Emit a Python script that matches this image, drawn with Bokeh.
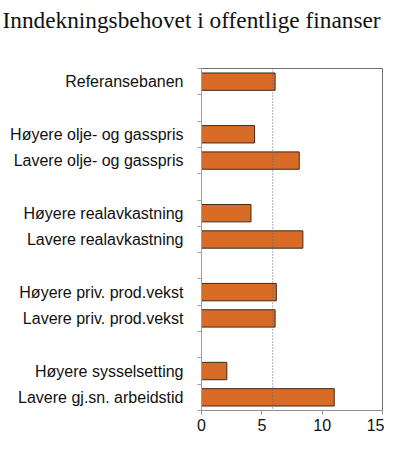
from bokeh.plotting import figure
from bokeh.models import Range1d, FixedTicker, Span, ColumnDataSource, Title
from bokeh.embed import file_html
from bokeh.resources import INLINE

title_text = "Inndekningsbehovet i offentlige finanser"
categories = [
    "Referansebanen",
    "",
    "Høyere olje- og gasspris",
    "Lavere olje- og gasspris",
    "",
    "Høyere realavkastning",
    "Lavere realavkastning",
    "",
    "Høyere priv. prod.vekst",
    "Lavere priv. prod.vekst",
    "",
    "Høyere sysselsetting",
    "Lavere gj.sn. arbeidstid",
]
values = [6.1, None, 4.4, 8.1, None, 4.1, 8.4, None, 6.2, 6.1, None, 2.1, 11.0]
reference_line = 5.9
x_ticks = [0, 5, 10, 15]

n = len(categories)
idx = [i for i, v in enumerate(values) if v is not None]
source = ColumnDataSource(dict(
    y=idx,
    v=[values[i] for i in idx],
    name=[categories[i] for i in idx],
))

p = figure(width=384, height=434, output_backend="svg", toolbar_location=None,
           x_range=Range1d(x_ticks[0], x_ticks[-1]),
           y_range=Range1d(n - 0.5, -0.5),
           min_border_left=201, min_border_right=2, min_border_top=67, min_border_bottom=24)

p.hbar(y="y", right="v", left=0, height=0.66, source=source,
       fill_color="#D86C26", line_color="#3a2a20", line_width=1)

p.add_layout(Span(location=reference_line, dimension="height", line_color="#666666",
                  line_dash="1 2", line_width=1))

p.xgrid.visible = False
p.ygrid.visible = False
p.outline_line_color = "#707070"
p.outline_line_width = 1

# x axis
p.xaxis.ticker = FixedTicker(ticks=x_ticks)
p.xaxis.axis_line_color = "#909090"
p.xaxis.major_tick_line_color = "#909090"
p.xaxis.major_tick_out = 4
p.xaxis.major_tick_in = 0
p.xaxis.minor_tick_line_color = None
p.xaxis.major_label_text_font = "Arial"
p.xaxis.major_label_text_font_size = "16px"
p.xaxis.major_label_text_color = "#111111"
p.xaxis.major_label_standoff = 4

# y axis
p.yaxis.ticker = FixedTicker(ticks=idx, minor_ticks=[i - 0.5 for i in range(n + 1)])
p.yaxis.major_label_overrides = {i: categories[i] for i in idx}
p.yaxis.axis_line_color = "#a0a0a0"
p.yaxis.major_tick_line_color = None
p.yaxis.major_tick_out = 0
p.yaxis.major_tick_in = 0
p.yaxis.minor_tick_line_color = "#a0a0a0"
p.yaxis.minor_tick_out = 4
p.yaxis.minor_tick_in = 0
p.yaxis.major_label_text_font = "Arial"
p.yaxis.major_label_text_font_size = "16px"
p.yaxis.major_label_text_color = "#111111"
p.yaxis.major_label_standoff = 14

# spacer between the title and the frame, then the title itself
p.title.visible = False
p.add_layout(Title(text=" ", text_font_size="10px", standoff=19), "above")
p.add_layout(Title(text=title_text, text_font="Liberation Serif", text_font_style="normal",
                   text_font_size="23.3px", text_color="#111111", align="left",
                   offset=-199, standoff=8), "above")

open("out.html", "w").write(file_html(p, INLINE))
